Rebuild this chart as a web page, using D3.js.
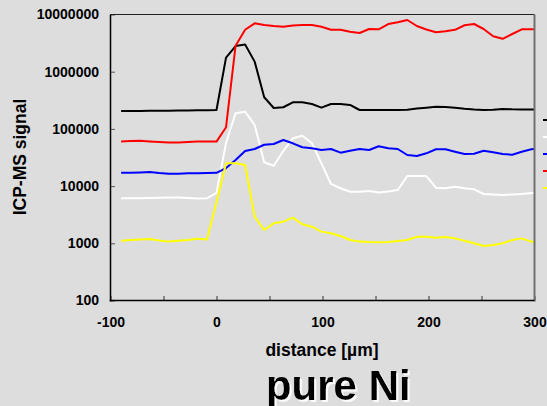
<!DOCTYPE html>
<html>
<head>
<meta charset="utf-8">
<script src="https://cdn.jsdelivr.net/npm/d3@7"></script>
<style>
  html, body { margin: 0; padding: 0; background: #dddddd; }
  svg { display: block; }
  text { font-family: "Liberation Sans", Arial, sans-serif; font-weight: bold; fill: #000; }
</style>
</head>
<body>
<script>
// ---- data ----
const distance = [-90,-81,-72,-63,-54,-45,-36,-27,-18,-9,0,9,18,27,36,45,54,63,72,81,90,99,108,117,126,135,144,153,162,171,180,189,198,207,216,225,234,243,252,261,270,279,288,297,306];
const black  = [205000,205000,206000,207000,207000,208000,209000,210000,211000,212000,214000,1770000,2810000,2990000,1500000,357000,232000,239000,292000,292000,272000,235000,272000,272000,262000,214000,214000,213000,214000,215000,217000,228000,235000,244000,241000,235000,225000,218000,214000,217000,223000,220000,219000,219000,219000];
const white  = [6120,6120,6140,6200,6270,6340,6320,6200,6080,6120,7600,57000,188000,200000,117000,26100,22700,41100,68500,76000,56000,25000,10900,9160,7980,7980,8200,7720,8050,8550,15000,15000,15000,9380,9160,9770,9160,8790,7280,7130,6990,7130,7280,7570,7640];
const blue   = [17100,17100,17300,17600,16900,16500,16500,16700,16800,16900,17100,20700,28600,41100,44500,52900,54500,64000,56000,47700,45800,42800,44500,38400,41600,44500,42800,49700,45800,44500,35000,33600,37400,44000,44000,39900,36400,36800,41600,39000,36400,35400,39900,44000,45400];
const red    = [60500,61400,62000,60500,59000,58000,58000,59000,60000,60500,60000,107000,2850000,5420000,7010000,6550000,6290000,6120000,6420000,6550000,6550000,6100000,5420000,5420000,5000000,4750000,5580000,5510000,6820000,7310000,8020000,6290000,5470000,4890000,5090000,5400000,6480000,6820000,5580000,4160000,3760000,4560000,5510000,5510000,5510000];
const yellow = [1110,1140,1160,1190,1120,1070,1110,1140,1200,1170,5330,25100,25100,23400,2920,1710,2240,2390,2810,2150,1950,1600,1500,1340,1140,1070,1050,1040,1050,1100,1140,1300,1300,1250,1290,1220,1110,1000,897,934,1000,1140,1220,1070,1030];

const seriesNames  = ["black","white","blue","red","yellow"];
const seriesColors = ["#000000","#ffffff","#0000ff","#ff0000","#ffff00"];
const seriesValues = [black, white, blue, red, yellow];

const xTicks = [-100,-50,0,50,100,150,200,250,300];
const xLabelTicks = [-100,0,100,200,300];
const yTicks = [100,1000,10000,100000,1000000,10000000];

const xTitle = "distance [\u00b5m]";
const yTitle = "ICP-MS signal";
const chartTitle = "pure Ni";

// ---- layout ----
const W = 547, H = 406;
const L = 110.5, R = 534.5, T = 14.5, B = 300.5;

const svg = d3.select("body").append("svg").attr("width", W).attr("height", H);
svg.append("rect").attr("width", W).attr("height", H).attr("fill", "#dddddd");

const x = d3.scaleLinear().domain([-100, 300]).range([L, R]);
const y = d3.scaleLog().domain([100, 1e7]).range([B, T]);

const defs = svg.append("defs");
defs.append("clipPath").attr("id", "plotclip")
  .append("rect").attr("x", L).attr("y", T - 2).attr("width", R - L).attr("height", B - T + 4);

// light emboss shadow for the big title
const f = defs.append("filter").attr("id", "shadow").attr("x", "-10%").attr("y", "-20%").attr("width", "130%").attr("height", "150%");
f.append("feOffset").attr("in", "SourceAlpha").attr("dx", 1.8).attr("dy", 1.8).attr("result", "off");
f.append("feGaussianBlur").attr("in", "off").attr("stdDeviation", 0.6).attr("result", "blur");
f.append("feFlood").attr("flood-color", "#ffffff").attr("flood-opacity", 0.9).attr("result", "col");
f.append("feComposite").attr("in", "col").attr("in2", "blur").attr("operator", "in").attr("result", "sh");
const fm = f.append("feMerge");
fm.append("feMergeNode").attr("in", "sh");
fm.append("feMergeNode").attr("in", "SourceGraphic");

// x axis
const xAxis = d3.axisBottom(x).tickValues(xTicks).tickSizeInner(-4.5).tickSizeOuter(0).tickPadding(16.5)
  .tickFormat(d => xLabelTicks.includes(d) ? String(d) : "");
const gx = svg.append("g").attr("transform", `translate(0,${B})`).call(xAxis);
gx.select(".domain").remove();
gx.selectAll("line").attr("stroke", "#333").attr("stroke-width", 1);
gx.selectAll("text").attr("font-size", 14).attr("font-family", "Liberation Sans, Arial, sans-serif").attr("font-weight", "bold").attr("fill", "#000");

// y axis
const yAxis = d3.axisLeft(y).tickValues(yTicks).tickSizeInner(-4.5).tickSizeOuter(0).tickPadding(11.5)
  .tickFormat(d3.format("d"));
const gy = svg.append("g").attr("transform", `translate(${L},0)`).call(yAxis);
gy.select(".domain").remove();
gy.selectAll("line").attr("stroke", "#555").attr("stroke-width", 1);
gy.selectAll("text").attr("font-size", 14).attr("font-family", "Liberation Sans, Arial, sans-serif").attr("font-weight", "bold").attr("fill", "#000");

// lines
const line = d3.line().x((d, i) => x(distance[i])).y(d => y(d));
const gl = svg.append("g").attr("clip-path", "url(#plotclip)");
seriesValues.forEach((vals, k) => {
  gl.append("path").datum(vals)
    .attr("d", line)
    .attr("fill", "none")
    .attr("stroke", seriesColors[k])
    .attr("stroke-width", 2)
    .attr("stroke-linejoin", "round");
});

// frame
svg.append("line").attr("x1", L).attr("x2", R).attr("y1", T).attr("y2", T).attr("stroke", "#222").attr("stroke-width", 1);
svg.append("line").attr("x1", R).attr("x2", R).attr("y1", T).attr("y2", B + 1).attr("stroke", "#707070").attr("stroke-width", 2);
svg.append("line").attr("x1", L).attr("x2", L).attr("y1", T).attr("y2", B + 1).attr("stroke", "#000").attr("stroke-width", 1.5);
svg.append("line").attr("x1", L - 0.75).attr("x2", R).attr("y1", B).attr("y2", B).attr("stroke", "#000").attr("stroke-width", 1.5);

// legend (swatches; rest of legend is outside the window)
const legY = d3.scalePoint().domain(seriesNames).range([120, 188]);
seriesNames.forEach((n, k) => {
  svg.append("line").attr("x1", 543).attr("x2", 562)
    .attr("y1", legY(n)).attr("y2", legY(n))
    .attr("stroke", seriesColors[k]).attr("stroke-width", 2);
});

// titles
svg.append("text").attr("x", 322).attr("y", 356).attr("text-anchor", "middle")
  .attr("font-size", 17.5).text(xTitle);
svg.append("text").attr("transform", "translate(26,157) rotate(-90)").attr("text-anchor", "middle")
  .attr("font-size", 17.5).text(yTitle);

svg.append("text").attr("x", 338.3).attr("y", 400).attr("text-anchor", "middle")
  .attr("font-size", 42).attr("filter", "url(#shadow)").text(chartTitle);
</script>
</body>
</html>
